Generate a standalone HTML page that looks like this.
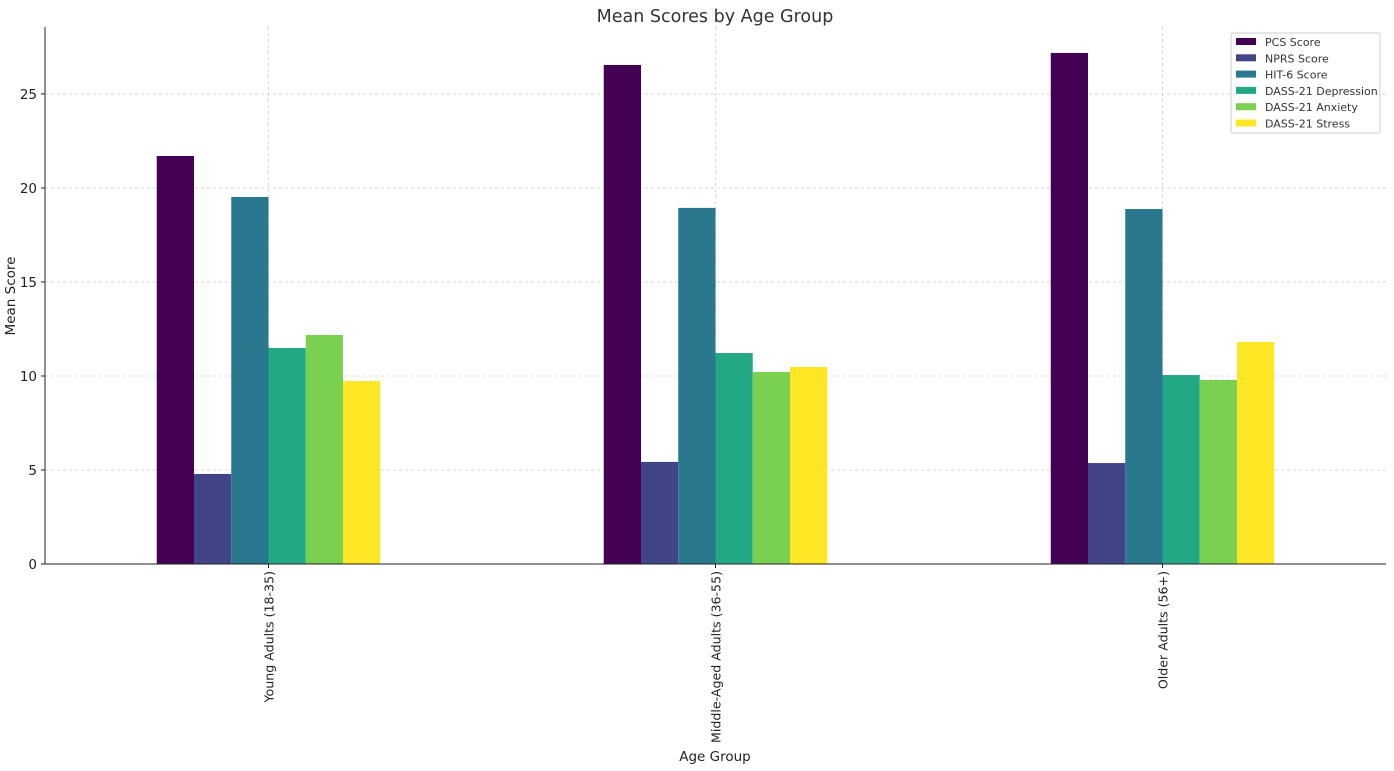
<!DOCTYPE html>
<html><head><meta charset="utf-8"><style>
body{margin:0;background:#fff;font-family:"DejaVu Sans","Liberation Sans",sans-serif;}
svg{display:block}
</style></head><body>
<svg id="chart" width="1394" height="771">
<text x="715" y="22" text-anchor="middle" font-size="17.5" fill="#333">Mean Scores by Age Group</text>
<g id="grid"></g><g id="bars"></g><g id="axes"></g>
<text x="715" y="761" text-anchor="middle" font-size="13.5" fill="#222">Age Group</text>
<text transform="translate(15,296) rotate(-90)" text-anchor="middle" font-size="13.5" fill="#222">Mean Score</text>
<g id="legend"></g>
</svg>
<script>
const categories=["Young Adults (18-35)","Middle-Aged Adults (36-55)","Older Adults (56+)"];
const seriesNames=["PCS Score","NPRS Score","HIT-6 Score","DASS-21 Depression","DASS-21 Anxiety","DASS-21 Stress"];
const pcs=[21.7,26.54,27.18];
const nprs=[4.79,5.43,5.37];
const hit6=[19.52,18.94,18.88];
const dep=[11.49,11.22,10.05];
const anx=[12.18,10.21,9.79];
const stress=[9.73,10.48,11.81];
const yTicks=[0,5,10,15,20,25];
const series=[pcs,nprs,hit6,dep,anx,stress];
const colors=["#440154","#414487","#2a788e","#22a884","#7ad151","#fde725"];
const NS="http://www.w3.org/2000/svg";
const L=45,R=1386,T=27,B=564,YMAX=28.56;
const y=v=>B-(v/YMAX)*(B-T);
const unit=(R-L)/3;
const x=i=>L+(i+0.5)*unit;
function mk(t,a,p){const e=document.createElementNS(NS,t);for(const k in a)e.setAttribute(k,a[k]);p.appendChild(e);return e;}
const grid=document.getElementById('grid'),bars=document.getElementById('bars'),axes=document.getElementById('axes'),leg=document.getElementById('legend');
yTicks.forEach(t=>{
 const g=mk('line',{x1:L,x2:R,y1:y(t),y2:y(t),stroke:"#d0d0d0","stroke-dasharray":"3,3","stroke-width":0.8},grid);
 
 
 mk('line',{x1:L-4,x2:L,y1:y(t),y2:y(t),stroke:"#222"},axes);
 const tx=mk('text',{x:L-8,y:y(t)+5,"text-anchor":"end","font-size":13.5,fill:"#222"},axes);tx.textContent=t;
 
 
});
categories.forEach((c,i)=>{
 const g=mk('line',{x1:x(i),x2:x(i),y1:T,y2:B,stroke:"#d0d0d0","stroke-dasharray":"3,3","stroke-width":0.8},grid);
 
 
 mk('line',{x1:x(i),x2:x(i),y1:B,y2:B+4,stroke:"#222"},axes);
 const tx=mk('text',{transform:`translate(${x(i)+5},${B+7}) rotate(-90)`,"text-anchor":"end","font-size":12.6,fill:"#222"},axes);tx.textContent=c;
 
 
});
const bw=unit*0.5/6;
series.forEach((s,k)=>{s.forEach((v,i)=>{
 const r=mk('rect',{x:x(i)-unit*0.25+k*bw,y:y(v),width:bw,height:B-y(v),fill:colors[k]},bars);
 
 
});});
mk('line',{x1:L,x2:L,y1:T,y2:B,stroke:"#222"},axes);
mk('line',{x1:L,x2:R,y1:B,y2:B,stroke:"#222"},axes);
const lb=mk('rect',{x:1231,y:33,width:149,height:100,fill:"#fff",stroke:"#ccc",rx:2},leg);


seriesNames.forEach((n,k)=>{
 const yy=42+k*16.3;
 mk('rect',{x:1236,y:yy-4,width:20,height:7,fill:colors[k]},leg);
 const t=mk('text',{x:1265,y:yy+4,"font-size":11,fill:"#333"},leg);t.textContent=n;
 
 
});
</script>
</body></html>
